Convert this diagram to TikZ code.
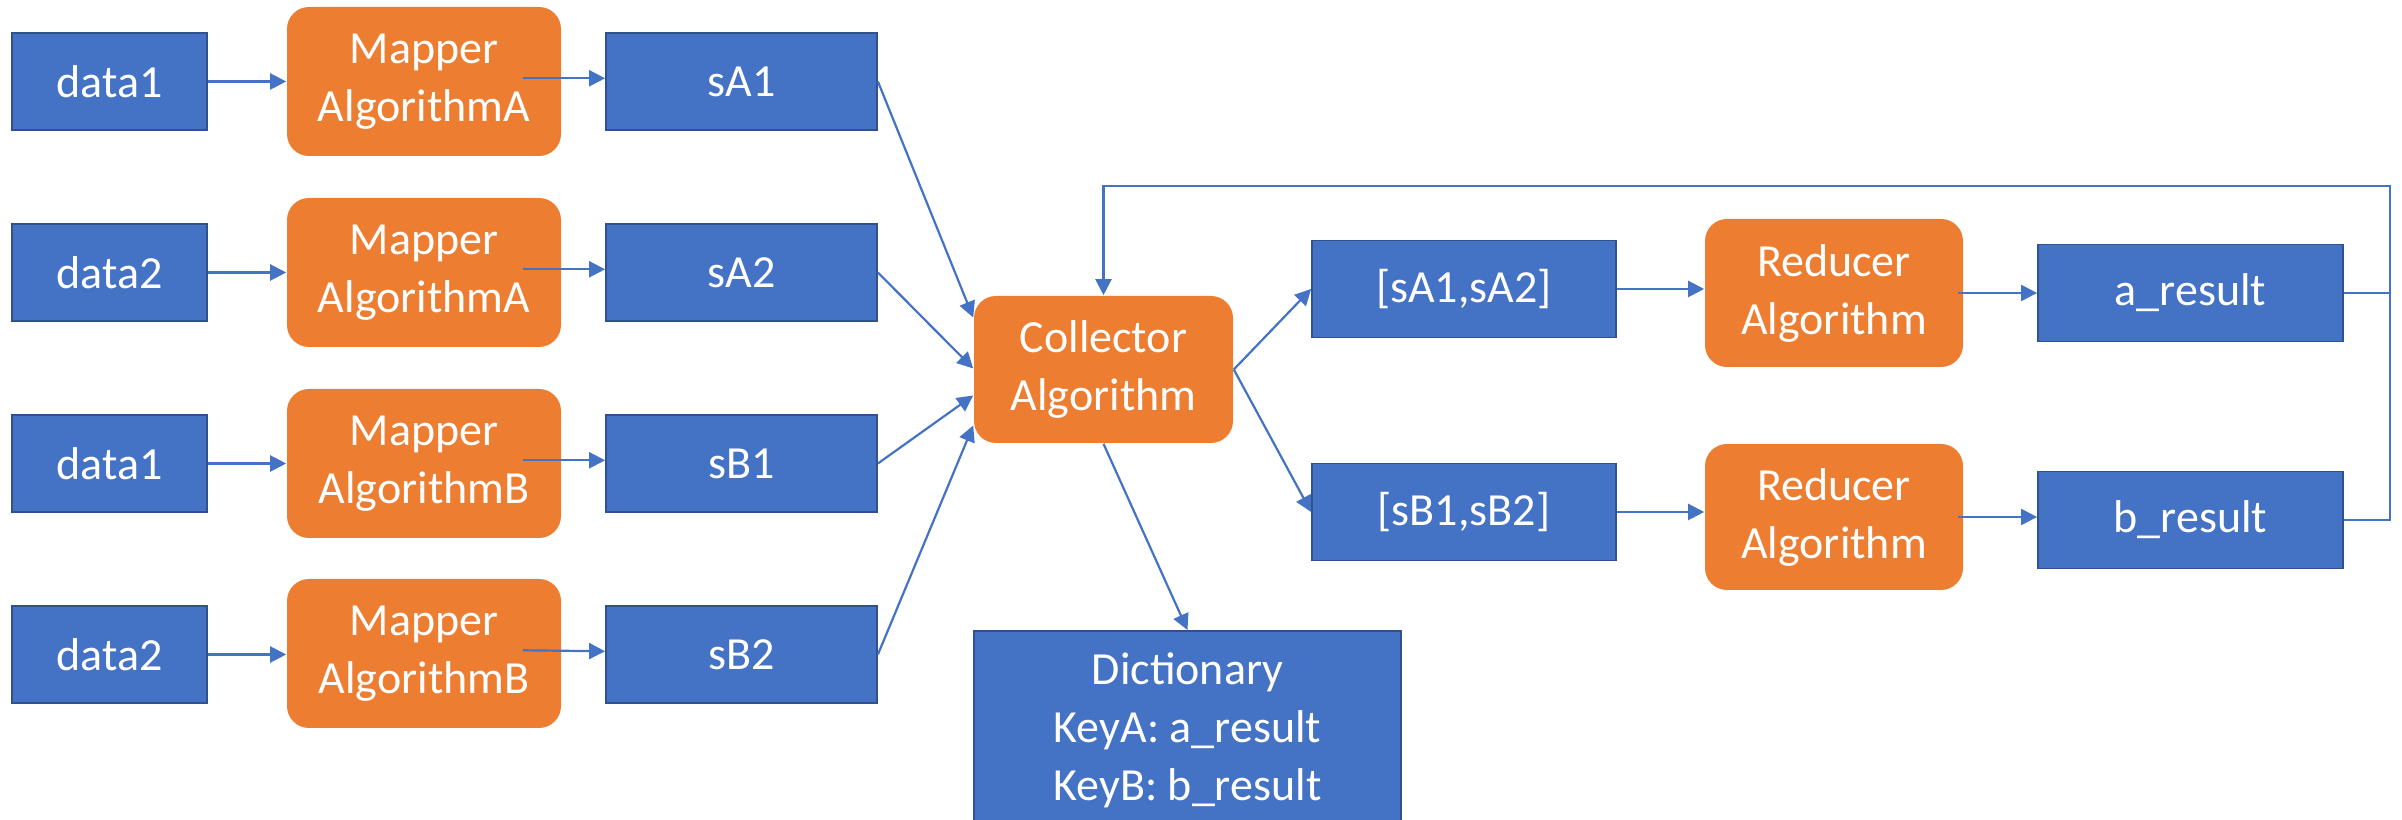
\documentclass[tikz,border=0pt]{standalone}
\usepackage{fontspec}
\setmainfont{Carlito}
\usetikzlibrary{arrows.meta,calc}
\definecolor{boxblue}{HTML}{4472C4}
\definecolor{boxedge}{HTML}{2F528F}
\definecolor{procorange}{HTML}{ED7D31}
\begin{document}
\begin{tikzpicture}[x=0.25pt,y=-0.25pt,
  txt/.style={text=white,font=\fontsize{11.5pt}{14.5pt}\selectfont,align=center,inner sep=0pt},
  databox/.style={txt,draw=boxedge,line width=0.45pt,fill=boxblue,minimum height=24.25pt},
  procbox/.style={txt,fill=procorange,rounded corners=5.5pt},
  conn/.style={draw=boxblue,line width=0.55pt,-{Triangle[length=4pt,width=4pt]}},
  plain/.style={draw=boxblue,line width=0.55pt}]
\useasboundingbox (0,0) rectangle (2402,820);
% inputs
\foreach \i/\y/\d in {1/81.5/data1,2/272.5/data2,3/463.5/data1,4/654.5/data2}{
  \node[databox,minimum width=48.75pt] (d\i) at (109.5,\y) {\d};
}
\node[procbox,minimum width=68.5pt,minimum height=37.25pt] (m1) at (424,81.5) {Mapper\\AlgorithmA};
\node[procbox,minimum width=68.5pt,minimum height=37.25pt] (m2) at (424,272.5) {Mapper\\AlgorithmA};
\node[procbox,minimum width=68.5pt,minimum height=37.25pt] (m3) at (424,463.5) {Mapper\\AlgorithmB};
\node[procbox,minimum width=68.5pt,minimum height=37.25pt] (m4) at (424,653.5) {Mapper\\AlgorithmB};
\node[databox,minimum width=67.75pt] (s1) at (741.5,81.5) {sA1};
\node[databox,minimum width=67.75pt] (s2) at (741.5,272.5) {sA2};
\node[databox,minimum width=67.75pt] (s3) at (741.5,463.5) {sB1};
\node[databox,minimum width=67.75pt] (s4) at (741.5,654.5) {sB2};
% collector and dictionary
\node[procbox,minimum width=64.75pt,minimum height=36.75pt] (coll) at (1103.5,369.5) {Collector\\Algorithm};
\node[databox,minimum width=106.75pt,minimum height=49.5pt] (dict) at (1187.5,730) {Dictionary\\KeyA: a\_result\\KeyB: b\_result};
% lists
\node[databox,minimum width=76pt] (lA) at (1464,289) {[sA1,sA2]};
\node[databox,minimum width=76pt] (lB) at (1464,512) {[sB1,sB2]};
% reducers
\node[procbox,minimum width=64.5pt,minimum height=37pt] (rA) at (1834,293) {Reducer\\Algorithm};
\node[procbox,minimum width=64.5pt,minimum height=36.5pt] (rB) at (1834,517) {Reducer\\Algorithm};
% results
\node[databox,minimum width=76.25pt] (aR) at (2190.5,293) {a\_result};
\node[databox,minimum width=76.25pt] (bR) at (2190.5,520) {b\_result};
\coordinate (loopR) at (2390,186);
% connectors
\foreach \i in {1,2,3,4}{
  \draw[conn] (d\i.east) -- (m\i.west |- d\i.east);
  \draw[conn] ([xshift=-9.75pt,yshift=0.8pt]m\i.east) -- ([yshift=0.8pt]s\i.west);
}
\draw[conn] (s1.east) -- ([yshift=13pt]coll.west);
\draw[conn] (s2.east) -- ([yshift=0.25pt]coll.west);
\draw[conn] (s3.east) -- ([yshift=-6.5pt]coll.west);
\draw[conn] (s4.east) -- ([yshift=-14pt]coll.west);
\draw[conn] (coll.east) -- (lA.west);
\draw[conn] (coll.east) -- (lB.west);
\draw[conn] (coll.south) -- (dict.north);
\draw[conn] (lA.east) -- (rA.west |- lA.east);
\draw[conn] (lB.east) -- (rB.west |- lB.east);
\draw[conn] ([xshift=-1.5pt]rA.east) -- (aR.west);
\draw[conn] ([xshift=-1.5pt]rB.east) -- (bR.west |- rB.east);
\draw[plain] (bR.east) -| (loopR);
\draw[conn] (aR.east) -| (loopR) -| (coll.north);
\end{tikzpicture}
\end{document}
